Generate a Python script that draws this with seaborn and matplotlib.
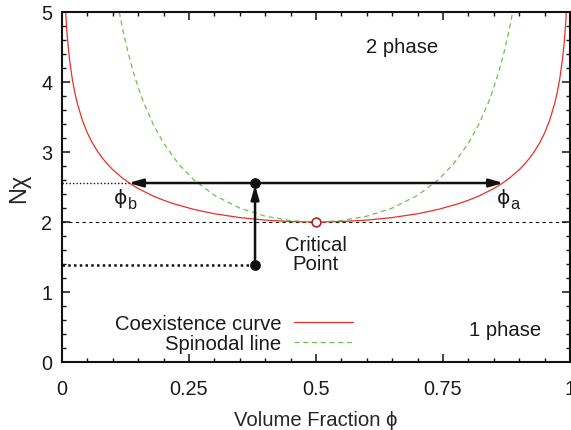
import matplotlib
matplotlib.use("Agg")
import matplotlib.pyplot as plt
import seaborn as sns
import pandas as pd

# Coexistence (binodal) curve: volume fraction vs N*chi
binodal_phi = [0.0072, 0.008, 0.010, 0.0125, 0.015, 0.020, 0.025, 0.030, 0.040, 0.050,
               0.060, 0.070, 0.080, 0.090, 0.100, 0.120, 0.135, 0.150, 0.180, 0.200,
               0.220, 0.260, 0.300, 0.350, 0.400, 0.450, 0.500,
               0.550, 0.600, 0.650, 0.700, 0.740, 0.780, 0.800, 0.820, 0.850, 0.865,
               0.880, 0.900, 0.910, 0.920, 0.930, 0.940, 0.950, 0.960, 0.970, 0.975,
               0.980, 0.985, 0.9875, 0.990, 0.992, 0.9928]
binodal_nchi = [5.000, 4.899, 4.689, 4.481, 4.314, 4.054, 3.856, 3.698, 3.455, 3.271,
                3.127, 3.008, 2.908, 2.822, 2.747, 2.622, 2.545, 2.478, 2.369, 2.311,
                2.260, 2.179, 2.118, 2.063, 2.027, 2.007, 2.000,
                2.007, 2.027, 2.063, 2.118, 2.179, 2.260, 2.311, 2.369, 2.478, 2.545,
                2.622, 2.747, 2.822, 2.908, 3.008, 3.127, 3.271, 3.455, 3.698, 3.856,
                4.054, 4.314, 4.481, 4.689, 4.899, 5.000]

# Spinodal line
spinodal_phi = [0.1127, 0.120, 0.130, 0.140, 0.150, 0.160, 0.180, 0.200, 0.230, 0.260,
                0.300, 0.350, 0.400, 0.450, 0.500, 0.550, 0.600, 0.650, 0.700, 0.740,
                0.770, 0.800, 0.820, 0.840, 0.850, 0.860, 0.870, 0.880, 0.8873]
spinodal_nchi = [5.000, 4.735, 4.421, 4.153, 3.922, 3.720, 3.388, 3.125, 2.823, 2.599,
                 2.381, 2.198, 2.083, 2.020, 2.000, 2.020, 2.083, 2.198, 2.381, 2.599,
                 2.823, 3.125, 3.388, 3.720, 3.922, 4.153, 4.421, 4.735, 5.000]

# Quench path and tie line
critical_point = (0.5, 2.0)
phi_quench = 0.38
nchi_start = 1.386
nchi_end = 2.557
phi_b = 0.131
phi_a = 0.869

x_ticks = [0, 0.25, 0.5, 0.75, 1]
x_tick_labels = ["0", "0.25", "0.5", "0.75", "1"]
y_ticks = [0, 1, 2, 3, 4, 5]

sns.set_theme(style="ticks")
plt.rcParams["font.family"] = ["Liberation Sans", "DejaVu Sans"]
plt.rcParams["text.color"] = "#1a1a1a"

RED = "#ec2f26"
GREEN = "#6cc24a"
BLACK = "#111111"
FS = 14.6

fig = plt.figure(figsize=(5.71, 4.31), dpi=100)
ax = fig.add_axes([62 / 571, 1 - 363 / 431, 508 / 571, 350 / 431])

df_b = pd.DataFrame({"phi": binodal_phi, "nchi": binodal_nchi})
df_s = pd.DataFrame({"phi": spinodal_phi, "nchi": spinodal_nchi})

sns.lineplot(data=df_b, x="phi", y="nchi", ax=ax, color=RED, lw=0.9,
             estimator=None, sort=False, label="Coexistence curve")
sns.lineplot(data=df_s, x="phi", y="nchi", ax=ax, color=GREEN, lw=0.9,
             estimator=None, sort=False, label="Spinodal line", dashes=False)
ax.lines[-1].set_dashes((4, 3))

# critical temperature reference
ax.axhline(critical_point[1], color=BLACK, lw=0.8, dashes=(3, 3), zorder=1)

# guide lines to the y axis
ax.plot([0, phi_b], [nchi_end, nchi_end], color=BLACK, lw=1.0, ls=(0, (1, 1.5)))
ax.plot([0, phi_quench], [nchi_start, nchi_start], color=BLACK, lw=1.8, ls=(0, (1, 1.3)))

# tie line with arrows to both coexisting compositions
ax.annotate("", xy=(phi_b, nchi_end), xytext=(phi_a, nchi_end),
            arrowprops=dict(arrowstyle="<|-|>,head_length=0.7,head_width=0.2",
                            color=BLACK, lw=1.8, shrinkA=0, shrinkB=0))
# quench arrow
ax.annotate("", xy=(phi_quench, nchi_end - 0.03), xytext=(phi_quench, nchi_start),
            arrowprops=dict(arrowstyle="-|>,head_length=0.7,head_width=0.2",
                            color=BLACK, lw=1.8, shrinkA=0, shrinkB=0))
ax.scatter([phi_quench, phi_quench], [nchi_start, nchi_end], s=45, color=BLACK, zorder=5)

ax.scatter([critical_point[0]], [critical_point[1]], s=40, facecolor="white",
           edgecolor="#b22222", lw=1.2, zorder=6)

# annotations
ax.text(0.5, 1.54, "Critical\nPoint", ha="center", va="center", fontsize=FS,
        linespacing=1.0)
ax.text(0.67, 4.5, "2 phase", ha="center", va="center", fontsize=FS)
ax.text(0.872, 0.47, "1 phase", ha="center", va="center", fontsize=FS)
for xv, sub in [(phi_b - 0.015, "b"), (phi_a + 0.0, "a")]:
    ax.text(xv, 2.35, "ϕ", ha="center", va="center", fontsize=FS,
            family=["DejaVu Sans"])
    ax.text(xv + 0.013, 2.27, sub, ha="left", va="center", fontsize=FS * 0.8)

ax.set_xlim(0, 1)
ax.set_ylim(0, 5)
ax.set_xticks(x_ticks)
ax.set_xticklabels(x_tick_labels)
ax.set_yticks(y_ticks)
ax.set_xticks([i * 0.05 for i in range(21)], minor=True)
ax.set_yticks([i * 0.2 for i in range(26)], minor=True)
ax.tick_params(which="both", direction="in", top=True, right=True, colors=BLACK,
               labelcolor="#1a1a1a")
ax.tick_params(which="major", length=6, width=1.1, labelsize=14.3)
ax.tick_params(axis="x", which="major", pad=12)
ax.tick_params(axis="y", which="major", pad=7)
ax.tick_params(which="minor", length=3, width=1.0)
for sp in ax.spines.values():
    sp.set_linewidth(1.5)
    sp.set_color(BLACK)
    sp.set_visible(True)

ax.set_xlabel("Volume Fraction ϕ", fontsize=FS, labelpad=9)
ax.set_ylabel("Nχ", fontsize=17, labelpad=8)

leg = ax.legend(loc="center right", bbox_to_anchor=(353 / 571, 1 - 334.5 / 431),
                bbox_transform=fig.transFigure, frameon=False, markerfirst=False,
                fontsize=FS, handlelength=2.9, handletextpad=0.65, labelspacing=0.08,
                borderpad=0, borderaxespad=0)

fig.savefig("out.png", dpi=100)
